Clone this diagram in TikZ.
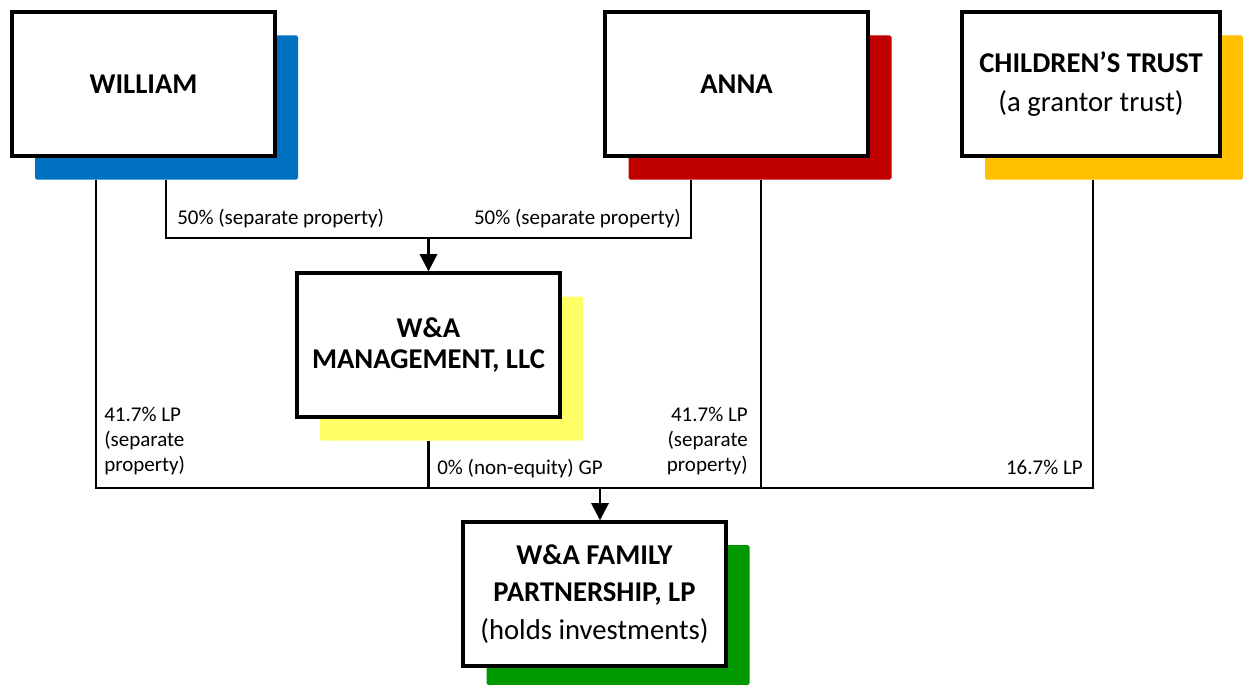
\documentclass[tikz,border=0pt]{standalone}
\usepackage{fontspec}
\setmainfont{Carlito}
\usetikzlibrary{arrows.meta}
\definecolor{cblue}{HTML}{0070C0}
\definecolor{cred}{HTML}{C00000}
\definecolor{cgold}{HTML}{FFC000}
\definecolor{cyel}{HTML}{FFFF66}
\definecolor{cgreen}{HTML}{009900}
\begin{document}
\begin{tikzpicture}[x=0.75pt,y=-0.75pt,
  box/.style={draw=black,line width=2.5pt,fill=white,minimum width=197.25pt,minimum height=108pt,inner sep=0pt,align=center,font=\fontsize{21.5}{26}\selectfont},
  shade/.style={fill=#1,draw=none,rounded corners=1.2pt,minimum width=197.25pt,minimum height=108pt,inner sep=0pt},
  conn/.style={line width=1.9pt},
  arr/.style={line width=1.9pt,-{Triangle[length=13pt,width=13pt]}},
  lbl/.style={inner sep=0pt,font=\fontsize{15.75}{18.75}\selectfont}]
\useasboundingbox (0,0) rectangle (1243,685);
% shadows
\node[shade=cblue] (wsh) at (166.5,107.5) {};
\node[shade=cred] (ash) at (760,107.5) {};
\node[shade=cgold,minimum width=193.5pt] (csh) at (1114,107.5) {};
\node[shade=cyel] (msh) at (451.5,368.5) {};
\node[shade=cgreen,minimum height=105pt] (psh) at (618,615) {};
% boxes
\node[box] (w) at (143.5,84) {\textbf{WILLIAM}};
\node[box] (a) at (736.5,84) {\textbf{ANNA}};
\node[box,minimum width=193.5pt,font=\fontsize{21.5}{29}\selectfont] (c) at (1091,84) {\textbf{CHILDREN’S TRUST}\\(a grantor trust)};
\node[box,font=\fontsize{21.5}{23.5}\selectfont] (m) at (428.5,345) {\textbf{W\&A}\\\textbf{MANAGEMENT, LLC}};
\node[box,font=\fontsize{21.5}{28}\selectfont] (p) at (594.5,594) {\textbf{W\&A FAMILY}\\\textbf{PARTNERSHIP, LP}\\(holds investments)};
% junctions
\coordinate (wm) at (166,238);
\coordinate (am) at (691,238);
\coordinate (mtop) at (428.5,238);
\coordinate (wl) at (96,488);
\coordinate (al) at (761,488);
\coordinate (cl) at (1093,488);
\coordinate (mbot) at (428.5,488);
\coordinate (ptop) at (600,488);
% connectors
\draw[conn] (wsh.south -| wm) -- (wm) -- (am) -- (ash.south -| am);
\draw[arr] (mtop) -- (m.north);
\draw[conn] (wsh.south -| wl) -- (wl) -- (cl) -- (csh.south -| cl);
\draw[conn] (ash.south -| al) -- (al);
\draw[conn] (msh.south -| mbot) -- (mbot);
\draw[arr] (ptop) -- (p.north -| ptop);
% labels
\node[lbl,anchor=base west] (l1) at (177,224) {50\% (separate property)};
\node[lbl,anchor=base east] (l2) at (681,224) {50\% (separate property)};
\node[lbl,anchor=north west,align=left] (l3) at (104,407) {41.7\% LP\\(separate\\property)};
\node[lbl,anchor=north east,align=right] (l4) at (748,407) {41.7\% LP\\(separate\\property)};
\node[lbl,anchor=base west] (l5) at (437,474) {0\% (non-equity) GP};
\node[lbl,anchor=base east] (l6) at (1083,474) {16.7\% LP};
\end{tikzpicture}
\end{document}
